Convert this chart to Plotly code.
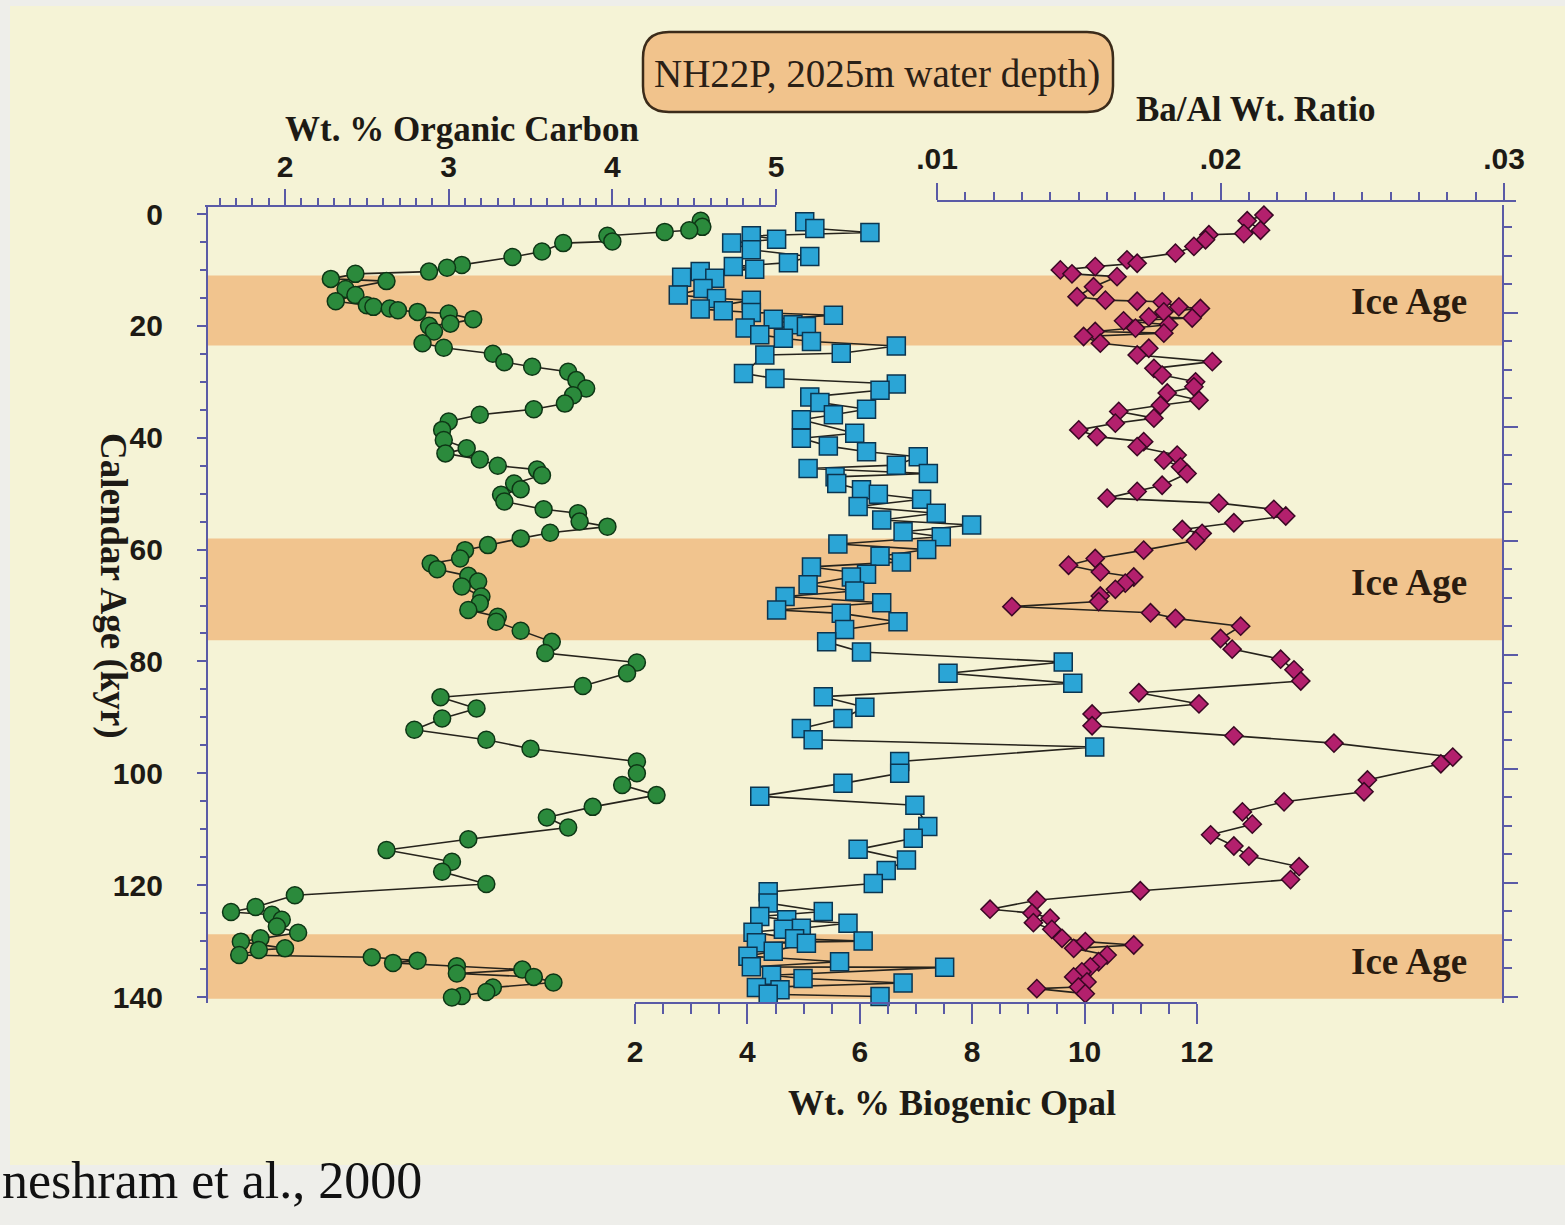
import numpy as np
import plotly.graph_objects as go

W, H = 1565, 1225

# ---- core NH22P records, calendar age in kyr ----
oc_age = [1.2, 2.3, 2.9, 3.2, 3.9, 4.9, 5.2, 6.7, 7.7, 9.1, 9.6, 10.3, 10.7, 11.6, 12.0,
          13.4, 14.5, 15.6, 16.3, 16.6, 16.9, 17.2, 17.5, 17.8, 18.8, 19.6, 20.0, 21.0,
          23.1, 23.9, 25.0, 26.5, 27.3, 28.2, 29.7, 31.2, 32.4, 33.9, 34.9, 35.9, 37.1,
          38.6, 40.4, 41.9, 42.8, 43.9, 45.0, 45.7, 46.7, 48.2, 49.2, 50.2, 51.4, 52.8,
          53.5, 55.0, 55.9, 57.0, 58.0, 59.2, 60.1, 61.6, 62.5, 63.5, 64.7, 65.7, 66.6,
          68.4, 69.6, 70.8, 72.0, 72.9, 74.5, 76.5, 78.5, 80.2, 82.1, 84.4, 86.4, 88.4,
          90.2, 92.2, 94.0, 95.6, 97.9, 100.0, 102.1, 103.9, 106.0, 107.9, 109.7, 111.8,
          113.7, 115.8, 117.6, 119.8, 121.8, 123.9, 124.8, 125.3, 126.2, 127.4, 128.5,
          129.5, 130.1, 131.3, 131.6, 132.5, 132.9, 133.5, 133.9, 134.5, 135.1, 135.8,
          136.4, 137.4, 138.3, 139.1, 139.8, 140.1]
oc_wt = [4.54, 4.55, 4.47, 4.32, 3.97, 4.00, 3.70, 3.57, 3.39, 3.08, 2.99, 2.88, 2.43, 2.28, 2.62,
         2.37, 2.43, 2.31, 2.50, 2.54, 2.64, 2.69, 2.81, 3.00, 3.15, 3.01, 2.88, 2.91,
         2.84, 2.97, 3.27, 3.34, 3.51, 3.73, 3.78, 3.84, 3.76, 3.71, 3.52, 3.19, 3.00,
         2.96, 2.97, 3.11, 2.98, 3.19, 3.30, 3.54, 3.57, 3.40, 3.44, 3.32, 3.34, 3.58,
         3.79, 3.80, 3.97, 3.62, 3.44, 3.24, 3.10, 3.07, 2.89, 2.93, 3.12, 3.18, 3.08,
         3.20, 3.19, 3.12, 3.30, 3.29, 3.44, 3.63, 3.59, 4.15, 4.09, 3.82, 2.95, 3.17,
         2.96, 2.79, 3.23, 3.50, 4.15, 4.15, 4.06, 4.27, 3.88, 3.60, 3.73, 3.12,
         2.62, 3.02, 2.96, 3.23, 2.06, 1.82, 1.67, 1.92, 1.98, 1.95, 2.08,
         1.85, 1.73, 2.00, 1.84, 1.72, 2.53, 2.81, 2.66, 3.05, 3.45, 3.05,
         3.52, 3.64, 3.27, 3.23, 3.08, 3.02]

opal_age = [1.4, 2.6, 3.3, 3.9, 4.5, 5.2, 6.4, 7.6, 8.7, 9.4, 9.9, 10.3, 11.3, 11.5, 13.3,
            14.5, 15.1, 15.4, 17.0, 17.3, 17.6, 18.1, 18.8, 19.8, 20.1, 20.4, 21.6, 22.2,
            22.8, 23.6, 24.9, 25.2, 28.5, 29.4, 30.4, 31.5, 32.7, 33.7, 34.9, 35.9, 36.8,
            39.2, 40.1, 41.5, 42.5, 43.4, 44.9, 45.5, 46.4, 47.0, 48.2, 49.3, 50.1, 51.0,
            52.3, 53.5, 54.7, 55.6, 56.8, 57.7, 59.0, 60.0, 61.2, 62.2, 63.1, 64.4, 64.9,
            66.3, 67.4, 68.4, 69.5, 70.8, 71.4, 72.9, 74.3, 76.5, 78.3, 80.1, 82.1, 83.9,
            86.3, 88.2, 90.2, 92.0, 94.0, 95.3, 97.9, 100.0, 101.8, 104.1, 105.7, 109.5,
            111.6, 113.6, 115.5, 117.4, 119.7, 121.2, 123.2, 124.7, 125.6, 126.2, 126.8,
            127.7, 127.9, 128.4, 129.6, 130.0, 130.3, 130.4, 131.8, 132.7, 133.7, 134.6,
            134.7, 136.1, 136.7, 137.5, 138.3, 138.7, 139.5, 139.9]
opal_wt = [5.02, 5.20, 6.18, 4.07, 4.52, 3.72, 4.07, 5.11, 4.73, 3.75, 4.13, 3.16, 2.83, 3.42, 3.21,
           2.77, 3.45, 4.07, 3.16, 3.57, 4.07, 5.53, 4.46, 4.81, 5.05, 3.96, 4.22, 4.64,
           5.14, 6.65, 5.67, 4.31, 3.93, 4.49, 6.65, 6.36, 5.11, 5.29, 6.12, 5.53, 4.96,
           5.91, 4.96, 5.44, 6.12, 7.04, 6.65, 5.08, 7.22, 5.56, 5.59, 6.03, 6.33, 7.10,
           5.97, 7.36, 6.39, 7.99, 6.77, 7.45, 5.61, 7.19, 6.36, 6.74, 5.14, 6.12, 5.85,
           5.08, 5.91, 4.67, 6.39, 4.52, 5.67, 6.68, 5.73, 5.41, 6.03, 9.62, 7.57, 9.79,
           5.35, 6.09, 5.70, 4.96, 5.17, 10.18, 6.71, 6.71, 5.70, 4.22, 6.98, 7.21,
           6.95, 5.97, 6.83, 6.47, 6.24, 4.37, 4.37, 5.35, 4.22, 4.70, 5.79,
           4.96, 4.64, 4.10, 4.84, 6.06, 4.16, 5.05, 4.46, 4.01, 5.64, 4.07,
           7.51, 4.43, 4.99, 6.77, 4.16, 4.58, 4.37, 6.36]

baal_age = [0.2, 1.2, 2.9, 3.5, 3.7, 4.6, 5.8, 7.0, 8.2, 8.8, 9.4, 10.0, 10.7, 11.2, 13.0,
            14.8, 15.4, 15.6, 15.7, 16.6, 16.9, 17.5, 18.4, 18.6, 19.1, 19.8, 20.4, 21.0,
            21.3, 21.9, 23.1, 24.0, 25.2, 26.4, 27.6, 28.8, 30.0, 30.9, 32.0, 33.3, 34.2,
            35.3, 36.5, 37.4, 38.6, 39.8, 40.7, 41.6, 43.1, 44.0, 45.2, 46.4, 48.5, 49.6,
            50.8, 51.7, 52.8, 54.0, 55.2, 56.4, 57.1, 58.4, 60.1, 61.6, 62.8, 64.0, 64.9,
            66.0, 67.1, 68.3, 69.3, 70.2, 71.3, 72.3, 73.7, 75.9, 77.8, 79.6, 81.5, 83.5,
            85.6, 87.6, 89.4, 91.5, 93.3, 94.6, 97.1, 98.3, 101.2, 103.3, 105.1, 106.9,
            109.1, 111.0, 113.0, 114.8, 116.7, 119.0, 121.0, 122.7, 124.3, 125.0, 125.9,
            126.7, 127.9, 129.5, 130.1, 130.7, 131.3, 132.5, 133.7, 134.6, 135.5, 136.4,
            137.3, 138.2, 138.5, 139.4]
baal_ratio = [0.02153, 0.02094, 0.02141, 0.02082, 0.01959, 0.01947, 0.01906, 0.01841, 0.01670,
              0.01706, 0.01558, 0.01435, 0.01476, 0.01635, 0.01552, 0.01494, 0.01594, 0.01706,
              0.01794, 0.01853, 0.01929, 0.01800, 0.01747, 0.01900, 0.01658, 0.01817, 0.01700,
              0.01558, 0.01800, 0.01517, 0.01576, 0.01747, 0.01706, 0.01971, 0.01765, 0.01794,
              0.01912, 0.01906, 0.01812, 0.01924, 0.01788, 0.01641, 0.01765, 0.01629, 0.01500,
              0.01564, 0.01729, 0.01706, 0.01847, 0.01800, 0.01859, 0.01882, 0.01794, 0.01706,
              0.01600, 0.01994, 0.02188, 0.02230, 0.02047, 0.01865, 0.01935, 0.01912, 0.01729,
              0.01558, 0.01464, 0.01576, 0.01694, 0.01664, 0.01629, 0.01576, 0.01570, 0.01264,
              0.01753, 0.01841, 0.02071, 0.02000, 0.02041, 0.02212, 0.02259, 0.02283, 0.01712,
              0.01924, 0.01547, 0.01547, 0.02047, 0.02400, 0.02819, 0.02777, 0.02518, 0.02506,
              0.02224, 0.02077, 0.02112, 0.01965, 0.02047, 0.02100, 0.02277, 0.02247, 0.01717,
              0.01352, 0.01187, 0.01335, 0.01399, 0.01340, 0.01405, 0.01441, 0.01523, 0.01694,
              0.01482, 0.01600, 0.01570, 0.01541, 0.01511, 0.01482, 0.01529, 0.01499, 0.01352,
              0.01523]

# glacial intervals (kyr)
ice_top = [11.0, 58.0, 128.8]
ice_bottom = [23.5, 76.2, 140.3]
ice_label_age = [15.7, 65.8, 133.7]

oc_ticks = [2, 3, 4, 5]
baal_ticks = [0.01, 0.02, 0.03]
baal_tick_text = [".01", ".02", ".03"]
opal_ticks = [2, 4, 6, 8, 10, 12]
age_ticks = [0, 20, 40, 60, 80, 100, 120, 140]


def fx(px):
    return px / W


def fy(py):
    return 1 - py / H


def ordered(age, val):
    idx = np.argsort(np.asarray(age), kind="stable")
    return np.asarray(val)[idx], np.asarray(age)[idx]


AXC = "#5a5aa6"
INK = "#1d1a15"
CREAM = "#f5f3d6"
BAND = "#f1c48e"
SANS = "Liberation Sans Narrow, Liberation Sans, Arial, sans-serif"
SERIF = "Liberation Serif, Times New Roman, serif"
tickfont = dict(family=SANS, size=30, color=INK, weight="bold")

fig = go.Figure()

line_style = dict(color="#26231c", width=1.6)

x, y = ordered(oc_age, oc_wt)
fig.add_trace(go.Scatter(
    x=x, y=y, xaxis="x", yaxis="y", mode="lines+markers", cliponaxis=False,
    line=line_style,
    marker=dict(symbol="circle", size=17, color="#2b8a3c",
                line=dict(color="#0e3615", width=1.5)),
    hoverinfo="skip", showlegend=False))

x, y = ordered(opal_age, opal_wt)
fig.add_trace(go.Scatter(
    x=x, y=y, xaxis="x3", yaxis="y", mode="lines+markers", cliponaxis=False,
    line=line_style,
    marker=dict(symbol="square", size=18, color="#2ba5d6",
                line=dict(color="#0b3550", width=1.5)),
    hoverinfo="skip", showlegend=False))

x, y = ordered(baal_age, baal_ratio)
fig.add_trace(go.Scatter(
    x=x, y=y, xaxis="x2", yaxis="y", mode="lines+markers", cliponaxis=False,
    line=line_style,
    marker=dict(symbol="diamond", size=14, color="#b3206d",
                line=dict(color="#3a0824", width=1.5)),
    hoverinfo="skip", showlegend=False))

# empty trace so the right-hand depth scale is drawn
fig.add_trace(go.Scatter(x=[None], y=[None], xaxis="x2", yaxis="y2",
                         hoverinfo="skip", showlegend=False))

shapes = [
    dict(type="rect", xref="paper", yref="paper", x0=fx(10), x1=1, y0=fy(1165), y1=fy(6),
         fillcolor=CREAM, line=dict(width=0), layer="below"),
]
for t, b in zip(ice_top, ice_bottom):
    shapes.append(dict(type="rect", xref="paper", yref="y", x0=fx(207), x1=fx(1503),
                       y0=t, y1=b, fillcolor=BAND, line=dict(width=0), layer="below"))

# rounded title box
bx0, bx1, by0, by1, r = 643, 1113, 32, 112, 26
pts = [("M", bx0 + r, by0), ("L", bx1 - r, by0), ("Q", bx1, by0, bx1, by0 + r),
       ("L", bx1, by1 - r), ("Q", bx1, by1, bx1 - r, by1), ("L", bx0 + r, by1),
       ("Q", bx0, by1, bx0, by1 - r), ("L", bx0, by0 + r), ("Q", bx0, by0, bx0 + r, by0)]
path = ""
for p in pts:
    cmd, vals = p[0], p[1:]
    coords = []
    for i in range(0, len(vals), 2):
        coords.append(f"{fx(vals[i]):.5f},{fy(vals[i + 1]):.5f}")
    path += cmd + " ".join(coords) + " "
path += "Z"
shapes.append(dict(type="path", xref="paper", yref="paper", path=path,
                   fillcolor="#f1c38c", line=dict(color="#3b2b1a", width=2.5), layer="below"))


def label(text, px, py, size, bold=True, angle=0, color=INK):
    return dict(text=text, x=fx(px), y=fy(py), xref="paper", yref="paper",
                xanchor="center", yanchor="middle", textangle=angle, showarrow=False,
                font=dict(family=SERIF, size=size, color=color,
                          weight="bold" if bold else "normal"))


annotations = [
    label("NH22P, 2025m water depth)", 877, 74, 39, bold=False, color="#2a2016"),
    label("Wt. % Organic Carbon", 462, 130, 35),
    label("Ba/Al Wt. Ratio", 1256, 110, 35),
    label("Wt. % Biogenic Opal", 952, 1103, 36),
    label("Calendar Age (kyr)", 113, 586, 37, angle=90),
    dict(text="neshram et al., 2000", x=0, y=fy(1180), xref="paper", yref="paper",
         xanchor="left", yanchor="middle", showarrow=False,
         font=dict(family=SERIF, size=52, color="#111")),
]
for a in ice_label_age:
    annotations.append(dict(text="Ice Age", x=fx(1469), y=a, xref="paper", yref="y",
                            xanchor="right", yanchor="middle", showarrow=False,
                            font=dict(family=SERIF, size=37, color="#2a1c10", weight="bold")))

common = dict(showline=True, linecolor=AXC, linewidth=2.2, ticks="outside", tickcolor=AXC,
              tickwidth=2, showgrid=False, zeroline=False, tickfont=tickfont, fixedrange=True)

fig.update_layout(
    width=W, height=H, margin=dict(l=0, r=0, t=0, b=0, autoexpand=False),
    paper_bgcolor="#eeeeea", plot_bgcolor="rgba(0,0,0,0)",
    showlegend=False, hovermode=False,
    shapes=shapes, annotations=annotations,
    xaxis=dict(common, domain=[fx(205), fx(776)], range=[1.511, 5.0], side="top",
               anchor="free", position=fy(206), tickmode="array", tickvals=oc_ticks,
               ticklen=16, ticklabelstandoff=0,
               minor=dict(tickmode="linear", tick0=2, dtick=0.1, ticklen=7,
                          tickcolor=AXC, tickwidth=1.5, showgrid=False)),
    xaxis2=dict(common, domain=[fx(937), fx(1516)], range=[0.01, 0.03042], side="top",
                anchor="free", position=fy(201), tickmode="array", tickvals=baal_ticks,
                ticktext=baal_tick_text, ticklen=17, ticklabelstandoff=2,
                minor=dict(tickmode="linear", tick0=0.01, dtick=0.001, ticklen=8,
                           tickcolor=AXC, tickwidth=1.5, showgrid=False)),
    xaxis3=dict(common, domain=[fx(635), fx(1197)], range=[2, 12], side="bottom",
                anchor="free", position=fy(1003), tickmode="array", tickvals=opal_ticks,
                ticklen=20, ticklabelstandoff=2,
                minor=dict(tickmode="linear", tick0=2, dtick=0.5, ticklen=10,
                           tickcolor=AXC, tickwidth=1.5, showgrid=False)),
    yaxis=dict(common, domain=[fy(1003), fy(205)], range=[141.07, -1.61], side="left",
               anchor="free", position=fx(207), tickmode="array", tickvals=age_ticks,
               ticklen=9, ticklabelstandoff=28,
               minor=dict(tickmode="linear", tick0=0, dtick=5, ticklen=6,
                          tickcolor=AXC, tickwidth=1.5, showgrid=False)),
    yaxis2=dict(showline=True, linecolor=AXC, linewidth=2.2, ticks="outside",
                tickcolor=AXC, tickwidth=2, ticklen=14, showgrid=False, zeroline=False,
                showticklabels=False, overlaying="y", side="right", anchor="free",
                position=fx(1503), range=[7.053, 0.053], tickmode="linear", tick0=0,
                dtick=1, fixedrange=True,
                minor=dict(tickmode="linear", tick0=0, dtick=0.25, ticklen=8,
                           tickcolor=AXC, tickwidth=1.5, showgrid=False)),
)

fig.write_html("out.html")
